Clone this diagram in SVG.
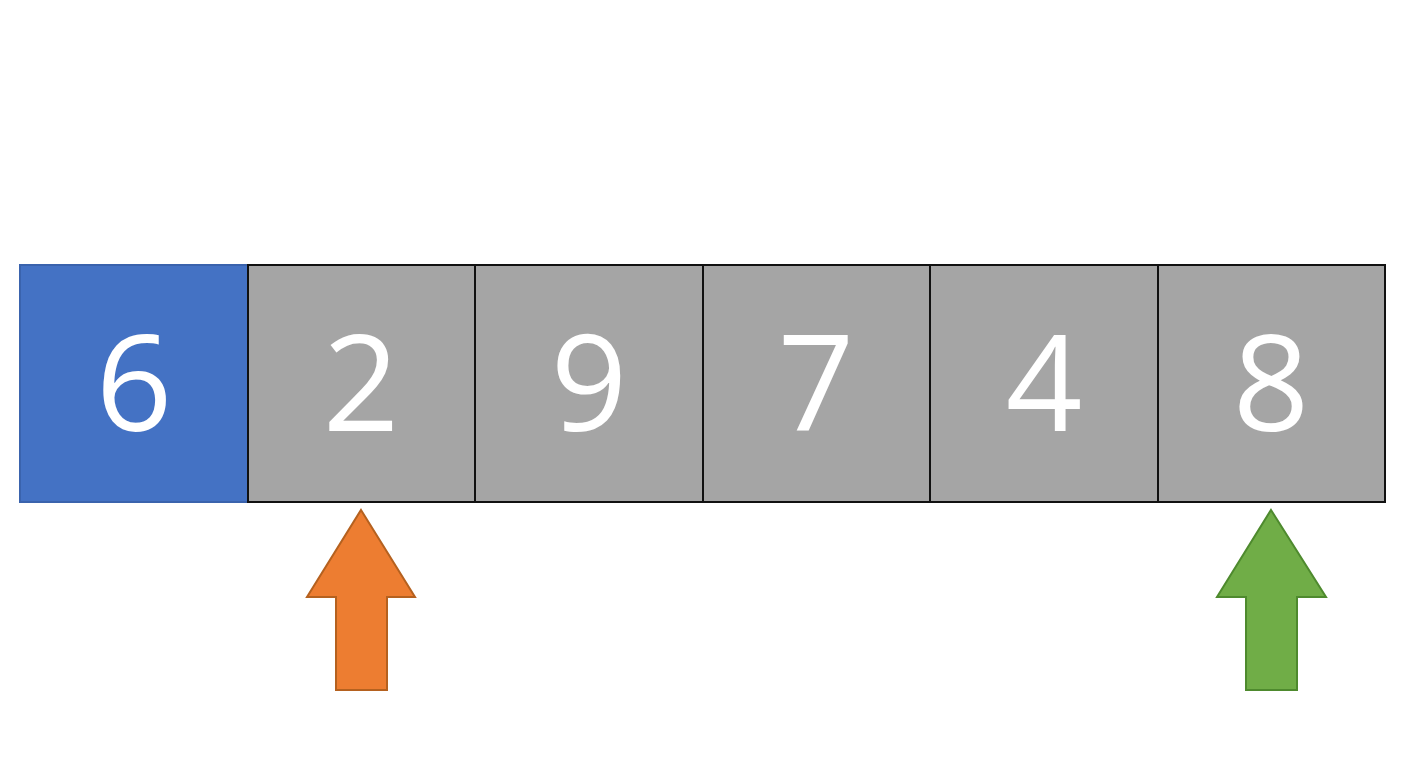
<svg xmlns="http://www.w3.org/2000/svg" width="1408" height="768" viewBox="0 0 1408 768">
<style>
.cell{fill:#A5A5A5;stroke:#111;stroke-width:2}
.num{font-family:"Open Sans","Liberation Sans",sans-serif;font-size:134px;fill:#fff;text-anchor:middle}
</style>
<rect width="1408" height="768" fill="#fff"/>
<g id="c0"><rect x="20" y="265" width="228" height="237" fill="#4472C4" stroke="#3A63AD" stroke-width="2"/><text class="num" x="134" y="431">6</text></g>
<g id="c1"><rect class="cell" x="248" y="265" width="227" height="237"/><text class="num" x="361" y="431">2</text></g>
<g id="c2"><rect class="cell" x="475" y="265" width="228" height="237"/><text class="num" x="589" y="431">9</text></g>
<g id="c3"><rect class="cell" x="703" y="265" width="227" height="237"/><text class="num" x="816" y="431">7</text></g>
<g id="c4"><rect class="cell" x="930" y="265" width="228" height="237"/><text class="num" x="1044" y="431">4</text></g>
<g id="c5"><rect class="cell" x="1158" y="265" width="227" height="237"/><text class="num" x="1271" y="431">8</text></g>
<g id="connectors">
<polygon id="arrowL" points="361,510 415,597 387,597 387,690 336,690 336,597 307,597" fill="#ED7D31" stroke="#B5611F" stroke-width="2"/>
<polygon id="arrowR" points="1271,510 1326,597 1297,597 1297,690 1246,690 1246,597 1217,597" fill="#70AD47" stroke="#4E8A2E" stroke-width="2"/>
</g>
</svg>
